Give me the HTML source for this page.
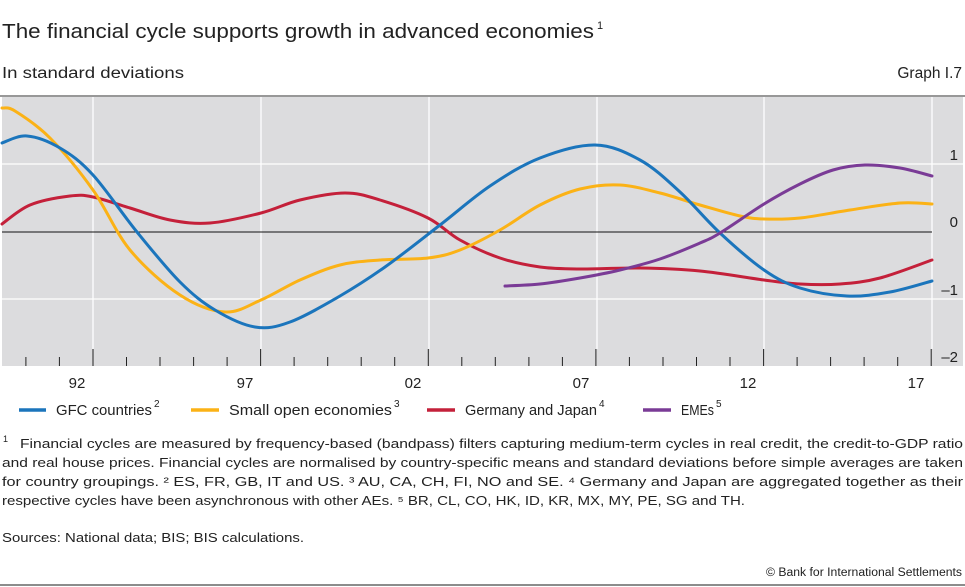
<!DOCTYPE html>
<html><head><meta charset="utf-8"><style>
body{margin:0;background:#fff;}
svg{display:block;font-family:"Liberation Sans",sans-serif;}
</style></head><body>
<svg id="s" width="965" height="587" viewBox="0 0 965 587" xmlns="http://www.w3.org/2000/svg">
<text x="2" y="38" font-size="20" fill="#222" textLength="592" lengthAdjust="spacingAndGlyphs">The financial cycle supports growth in advanced economies</text>
<text x="597" y="29" font-size="11" fill="#222">1</text>
<text x="2" y="78" font-size="15.5" fill="#222" textLength="182" lengthAdjust="spacingAndGlyphs">In standard deviations</text>
<text x="962" y="78" font-size="15.5" fill="#222" text-anchor="end">Graph I.7</text>
<rect x="2" y="97" width="961" height="269" fill="#dcdcde"/>
<line x1="0" y1="96" x2="965" y2="96" stroke="#777" stroke-width="1.5"/>
<g stroke="#fff" stroke-width="1.3">
<line x1="2" y1="164" x2="963" y2="164"/><line x1="2" y1="299" x2="963" y2="299"/>
<line x1="93" y1="97" x2="93" y2="349"/><line x1="261" y1="97" x2="261" y2="349"/><line x1="429" y1="97" x2="429" y2="349"/><line x1="597" y1="97" x2="597" y2="349"/><line x1="764" y1="97" x2="764" y2="349"/><line x1="932" y1="97" x2="932" y2="349"/>
</g>
<line x1="2" y1="232" x2="932" y2="232" stroke="#111" stroke-width="1"/>
<g id="ticks" stroke="#222" stroke-width="1"></g>
<g font-size="15" fill="#222">
<text x="77" y="388" text-anchor="middle">92</text><text x="245" y="388" text-anchor="middle">97</text><text x="413" y="388" text-anchor="middle">02</text><text x="581" y="388" text-anchor="middle">07</text><text x="748" y="388" text-anchor="middle">12</text><text x="916" y="388" text-anchor="middle">17</text>
<text x="958" y="160" text-anchor="end">1</text><text x="958" y="227" text-anchor="end">0</text><text x="958" y="295" text-anchor="end">–1</text><text x="958" y="362" text-anchor="end">–2</text>
</g>
<g id="lines" fill="none" stroke-width="3" stroke-linecap="round" stroke-linejoin="round"></g>
<g font-size="15" fill="#222">
<line x1="19" y1="410" x2="46" y2="410" stroke="#1b75bc" stroke-width="3.5"/>
<text x="56" y="415" textLength="96" lengthAdjust="spacingAndGlyphs">GFC countries</text><text x="154" y="407" font-size="10">2</text>
<line x1="191" y1="410" x2="219" y2="410" stroke="#fbb216" stroke-width="3.5"/>
<text x="229" y="415" textLength="163" lengthAdjust="spacingAndGlyphs">Small open economies</text><text x="394" y="407" font-size="10">3</text>
<line x1="427" y1="410" x2="455" y2="410" stroke="#c4203a" stroke-width="3.5"/>
<text x="465" y="415" textLength="132" lengthAdjust="spacingAndGlyphs">Germany and Japan</text><text x="599" y="407" font-size="10">4</text>
<line x1="643" y1="410" x2="671" y2="410" stroke="#7a3b96" stroke-width="3.5"/>
<text x="681" y="415" textLength="33" lengthAdjust="spacingAndGlyphs">EMEs</text><text x="716" y="407" font-size="10">5</text>
</g>
<g font-size="13" fill="#222">
<text x="3" y="442" font-size="9">1</text>
<text x="20" y="448" textLength="943" lengthAdjust="spacingAndGlyphs">Financial cycles are measured by frequency-based (bandpass) filters capturing medium-term cycles in real credit, the credit-to-GDP ratio</text>
<text x="2" y="467" textLength="961" lengthAdjust="spacingAndGlyphs">and real house prices. Financial cycles are normalised by country-specific means and standard deviations before simple averages are taken</text>
<text x="2" y="486" textLength="961" lengthAdjust="spacingAndGlyphs">for country groupings.    ² ES, FR, GB, IT and US.    ³ AU, CA, CH, FI, NO and SE.    ⁴ Germany and Japan are aggregated together as their</text>
<text x="2" y="505" textLength="743" lengthAdjust="spacingAndGlyphs">respective cycles have been asynchronous with other AEs.    ⁵ BR, CL, CO, HK, ID, KR, MX, MY, PE, SG and TH.</text>
<text x="2" y="542" textLength="302" lengthAdjust="spacingAndGlyphs">Sources: National data; BIS; BIS calculations.</text>
<text x="962" y="576" font-size="11.5" text-anchor="end" textLength="196" lengthAdjust="spacingAndGlyphs">© Bank for International Settlements</text>
</g>
<line x1="0" y1="585" x2="965" y2="585" stroke="#666" stroke-width="1.5"/>
</svg>
<script>
var t=document.getElementById("ticks"),h="";
for(var i=0;i<28;i++){var x=25.9+i*33.53;var maj=((i-2)%5==0);h+='<line x1="'+x.toFixed(1)+'" y1="'+(maj?349:357)+'" x2="'+x.toFixed(1)+'" y2="366"/>';}
t.innerHTML=h;
function path(p){var d="M"+p[0][0]+","+p[0][1];for(var i=0;i<p.length-1;i++){var p0=p[i-1]||p[i],p1=p[i],p2=p[i+1],p3=p[i+2]||p2;
d+=" C"+(p1[0]+(p2[0]-p0[0])/6).toFixed(1)+","+(p1[1]+(p2[1]-p0[1])/6).toFixed(1)+" "+(p2[0]-(p3[0]-p1[0])/6).toFixed(1)+","+(p2[1]-(p3[1]-p1[1])/6).toFixed(1)+" "+p2[0]+","+p2[1];}return d;}
var S=[
["#c4203a",[[2,224],[30,205],[70,196],[93,197],[130,208],[170,220],[210,223],[261,213],[300,200],[345,193],[380,200],[428,218],[460,240],[500,258],[540,267],[580,269],[640,268],[700,271],[764,280],[800,284],[840,284],[880,278],[932,260]]],
["#fbb216",[[2,108],[15,111],[50,138],[93,190],[130,250],[180,295],[225,312],[261,300],[300,280],[340,265],[380,260],[428,258],[460,250],[500,230],[540,205],[580,189],[620,185],[660,193],[700,205],[740,216],[764,219],[800,218],[850,210],[900,203],[932,204]]],
["#1b75bc",[[2,143],[27,136],[60,148],[93,175],[137,232],[180,282],[215,310],[255,327],[290,322],[340,296],[385,267],[440,225],[490,186],[540,158],[595,145],[640,160],[680,192],[720,233],[764,270],[800,288],[847,296],[890,292],[932,281]]],
["#7a3b96",[[505,286],[540,284],[580,278],[620,270],[660,259],[700,243],[720,233],[764,204],[800,184],[833,170],[865,165],[900,168],[932,176]]]];
var g=document.getElementById("lines"),s="";
S.forEach(function(a){s+='<path d="'+path(a[1])+'" stroke="'+a[0]+'"/>';});
g.innerHTML=s;
</script>
</body></html>
